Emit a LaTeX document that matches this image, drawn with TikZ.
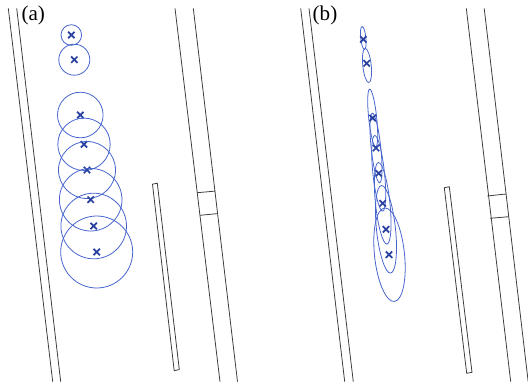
\documentclass[tikz,border=0pt]{standalone}
\usepackage{fontspec}
\setmainfont{Liberation Serif}
\usetikzlibrary{shapes.misc}
\definecolor{roadgray}{RGB}{60,60,60}
\definecolor{uncblue}{RGB}{70,100,205}
\definecolor{estblue}{RGB}{40,65,160}

\begin{document}
\begin{tikzpicture}[x=0.02cm, y=-0.02cm,
    roadline/.style={roadgray, line width=0.45pt},
    unc/.style={uncblue, line width=0.45pt},
    estpt/.style={cross out, draw=estblue, line width=1pt, minimum size=2.6pt, inner sep=0pt},
    panel/.style={font=\fontsize{12}{12}\selectfont, inner sep=0pt}]
    \useasboundingbox (0,0) rectangle (528,389);
    % (a) circles
    \draw[roadline] (8.3,8.3) -- (52.7,381.7);
    \draw[roadline] (16.7,8.3) -- (60.7,381.7);
    \draw[roadline] (175,8.3) -- (220,381.7);
    \draw[roadline] (193.3,8.3) -- (237.5,381.7);
    \draw[roadline] (197.2,192.7) -- (215.2,191.1);
    \draw[roadline] (199.9,215.3) -- (217.9,213.6);
    \draw[roadline] (152.5,184.2) -- (157.3,183.2) -- (179.3,369.5) -- (174.2,370.7) -- cycle;
    \foreach \x/\y/\r [count=\i] in {71.3/35/10.3, 74.3/59.7/15.5, 80.3/115/22.8, 84/144.3/26.2,
        87/170/28.5, 90.7/199.7/31.3, 93.7/226/32.8, 96.7/252/36} {
        \draw[unc] (\x,\y) circle[radius=\r];
        \node[estpt] (ea\i) at (\x,\y) {};
    }
    \node[panel] (lbla) at (33.3,15.5) {(a)};
    % (b) ellipses
    \draw[roadline] (300.7,8.3) -- (344.7,381.7);
    \draw[roadline] (309,8.3) -- (353.3,381.7);
    \draw[roadline] (466.3,8.3) -- (510.7,381.7);
    \draw[roadline] (484.2,8.3) -- (528.2,381.7);
    \draw[roadline] (487.3,196) -- (506,194);
    \draw[roadline] (490,218.3) -- (508.7,216.7);
    \draw[roadline] (444.3,187.7) -- (449.3,186.7) -- (472,372.3) -- (466.7,373.3) -- cycle;
    \foreach \x/\y/\a/\b in {363.3/38/2.6/11.5, 367/65.5/4.2/17.2, 372.7/118/4/29, 376/148/4.8/35,
        378.7/173.3/5.8/38, 382.7/203.3/7.2/41, 386/229.3/9.5/44, 389.5/254.7/15/47} {
        \draw[unc] (\x,\y) ellipse[x radius=\a, y radius=\b, rotate=6];
    }
    \foreach \x/\y [count=\i] in {363.3/39.3, 366.7/63.3, 372.7/118, 376/148,
        378.7/173.3, 382.7/203.3, 386/229.3, 389/254.7} {
        \node[estpt] (eb\i) at (\x,\y) {};
    }
    \node[panel] (lblb) at (325,15.5) {(b)};
\end{tikzpicture}
\end{document}
